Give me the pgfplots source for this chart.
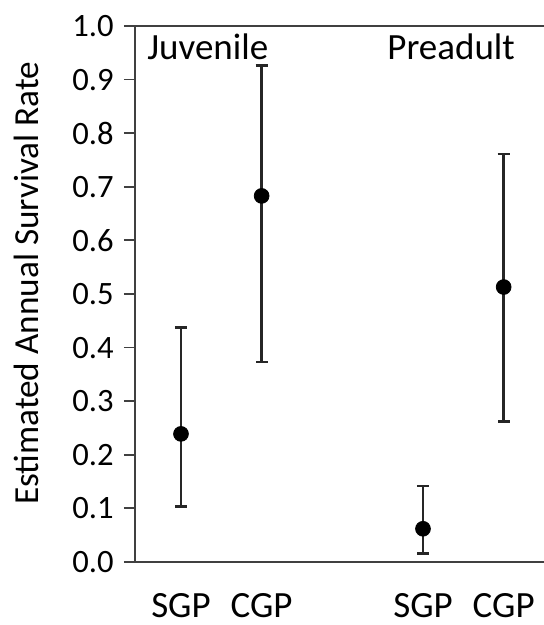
\documentclass[border=0pt]{standalone}
\usepackage{fontspec}
\setmainfont{Carlito}
\usepackage{pgfplots}
\pgfplotsset{compat=1.18}

\definecolor{axisgray}{HTML}{404040}

\begin{document}
\begin{tikzpicture}
\begin{axis}[
    name=ax,
    scale only axis,
    width=204.5pt,
    height=268pt,
    xmin=0.43, xmax=5.5,
    ymin=0, ymax=1,
    axis y line*=left,
    axis line style={axisgray, line width=0.9pt},
    xtick={1,2,4,5},
    xticklabels={SGP,CGP,SGP,CGP},
    xtick style={draw=none},
    xticklabel style={font=\fontsize{18.5}{21}\selectfont, anchor=north, inner sep=0pt, yshift=-10pt},
    ytick={0,0.1,...,1.0},
    tick align=outside,
    major tick length=5.5pt,
    ytick style={axisgray, line width=0.9pt},
    yticklabel style={font=\fontsize{16.3}{19}\selectfont, anchor=east, inner sep=0pt, xshift=-5pt},
    /pgf/number format/assume math mode=true,
    /pgf/number format/.cd, fixed, fixed zerofill, precision=1,
    /pgfplots/.cd,
    ylabel={Estimated Annual Survival Rate},
    every axis y label/.style={at={(axis description cs:0,0.52)}, xshift=-54.5pt, rotate=90, anchor=center, font=\fontsize{17.6}{21}\selectfont},
    clip=false,
]
\addplot[
    only marks,
    mark=*,
    mark size=3.7pt,
    black,
    error bars/.cd,
      y dir=both,
      y explicit,
      error bar style={line width=1.2pt, black!85},
      error mark options={line width=1.3pt, mark size=3pt, black!85, rotate=90},
] coordinates {
(1,0.239) +=(0,0.198) -=(0,0.135)
(2,0.683) +=(0,0.243) -=(0,0.310)
(4,0.062) +=(0,0.080) -=(0,0.046)
(5,0.513) +=(0,0.248) -=(0,0.251)
};
\node[anchor=north west, inner sep=0pt, font=\fontsize{18.5}{21}\selectfont]
  at ([xshift=6pt,yshift=-3.5pt]rel axis cs:0,1) {Juvenile};
\node[anchor=north west, inner sep=0pt, font=\fontsize{18.5}{21}\selectfont]
  at ([xshift=126pt,yshift=-3.5pt]rel axis cs:0,1) {Preadult};
\end{axis}
\pgfresetboundingbox
\path[use as bounding box] ([xshift=-67.5pt,yshift=-31.5pt]ax.south west) rectangle ([yshift=13pt]ax.north east);
\end{tikzpicture}
\end{document}
